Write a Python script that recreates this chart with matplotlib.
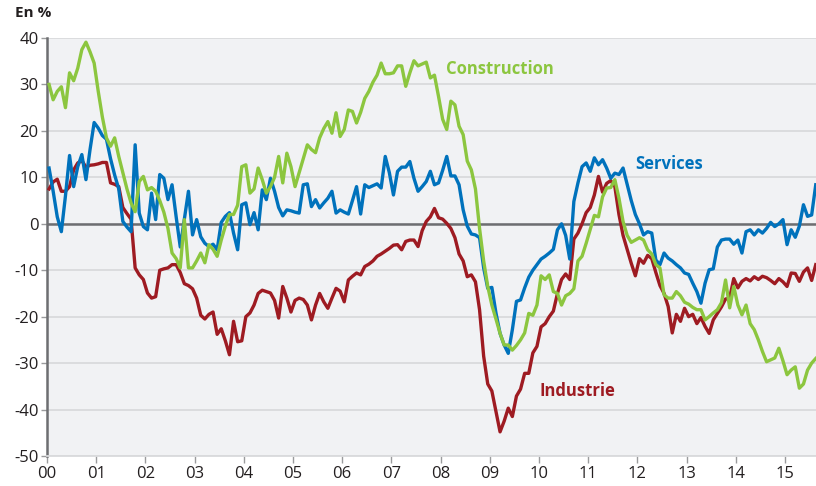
import numpy as np
import matplotlib
matplotlib.use("Agg")
import matplotlib.pyplot as plt

# monthly values, Jan 2000 - Aug 2015 (en %)
construction = [
    30, 26.7, 28.5, 29.5, 25, 32.5, 30.8, 33.5, 37.5, 39.1, 37, 34.6,
    28.5, 23, 18.5, 16.7, 18.5, 14.5, 11, 7.5, 4.5, 2.6, 9.1, 10.2,
    7.3, 7.8, 7, 5, 2.5, -1, -6.3, -7.5, -9.5, 0.9, -9.5, -9.5,
    -8, -6.3, -8.4, -4.5, -5.5, -7, -3.5, -0.5, 2, 2, 4, 12.3,
    12.7, 6.6, 7.5, 12, 9.5, 6.6, 8, 10, 14.5, 8.8, 15.2, 12.3,
    8, 11, 14, 17, 16, 15.3, 18.5, 20.5, 22, 19.5, 23.9, 18.8,
    20.3, 24.5, 24.2, 21.7, 24, 27, 28.5, 30.5, 32, 34.6, 32.3, 32.3,
    32.5, 34, 34, 29.6, 32.5, 35.1, 34, 34.4, 34.8, 31.4, 32, 27.4,
    22.5, 20.3, 26.4, 25.6, 21, 19.2, 13.5, 11.6, 7.5, -1, -8, -13.5,
    -17.5, -20.5, -23.6, -26.1, -26.1, -27.2, -26.2, -25, -23.5, -19.3, -19.7, -17.5,
    -11.2, -12, -11, -14.6, -15, -17.5, -15.5, -15, -14, -8, -7, -4.2,
    -1.2, 1.8, 1.5, 5.8, 7.7, 7.8, 9.5, 5.5, 0.5, -2.5, -4, -3.5,
    -3, -3.5, -5.6, -6.5, -8.8, -9.5, -15.3, -16, -16, -14.6, -15.5, -16.9,
    -17.3, -18, -18.5, -18.5, -20.7, -20, -19.2, -18.5, -17, -12.1, -18.1, -13.5,
    -17.5, -19.6, -17.5, -21.5, -22.8, -25, -27.5, -29.7, -29.3, -28.9, -26.8, -29.5,
    -32.5, -31.5, -30.8, -35.4, -34.5, -31.5, -30, -29,
]

services = [
    12, 7, 1.5, -1.7, 6, 14.7, 8, 12.3, 14.9, 9.5, 16, 21.8,
    20.6, 19, 18.2, 14, 10.5, 7.5, 0.5, -0.7, -1.7, 17, 2.3, -0.6,
    -1.3, 6.6, 0.9, 10.6, 9.8, 5.2, 8.4, 1.5, -5, 1, 7, -2.4,
    0.9, -2.8, -4.2, -4.9, -4.4, -5.6, 0.3, 1.6, 2.4, -2, -5.6, 4.1,
    4.5, -0.2, 2.4, -1.3, 7.3, 5.2, 9.8, 7, 3.5, 1.7, 3, 2.8,
    2.5, 2.3, 8.4, 8.6, 3.7, 5.2, 3.4, 4.5, 5.5, 7, 2.3, 3,
    2.5, 2.1, 5, 8, 2.1, 8.4, 7.8, 8.2, 8.6, 7.7, 14.5, 11,
    6.2, 11.3, 12.2, 12.2, 13.4, 9.8, 7, 8, 9.1, 11.3, 8.4, 8.8,
    11.5, 14.5, 10.3, 10.3, 8.4, 3, -0.5, -2.2, -2.4, -3, -9.5, -13.9,
    -13.7, -19.2, -23.6, -26.1, -27.9, -22.8, -16.7, -16.4, -13.8, -11.5, -10, -8.8,
    -7.6, -7, -6.3, -5.5, -1.3, 0, -2.5, -7.6, 4.8, 8.8, 12.3, 13.1,
    11.3, 14.2, 12.7, 13.8, 12, 9.8, 10.9, 10.6, 12, 8.5, 5, 2,
    0, -2.4, -1.7, -2, -7.8, -8.8, -6.3, -7.4, -8, -8.8, -9.5, -10.6,
    -10.9, -12.8, -14.6, -17.1, -12.8, -9.9, -9.7, -5, -3.5, -3.3, -3.3, -4.4,
    -3.5, -6.3, -1.7, -1.3, -2.4, -1.3, -2, -1, 0.3, -0.6, 0, 0.9,
    -4.5, -1.3, -2.9, -0.5, 4.1, 1.6, 1.9, 8.4,
]

industrie = [
    7.5, 9, 9.6, 7, 7, 8, 11.6, 13.1, 13.6, 12.2, 12.6, 12.7,
    12.9, 13.2, 13.2, 8.8, 8.5, 8, 3.5, 2.2, 1, -9.5, -11, -12,
    -14.9, -16, -15.7, -10, -9.7, -9.5, -8.8, -8.8, -10.5, -12.9, -13.3, -14,
    -16, -19.7, -20.5, -19.5, -19, -23.8, -22.6, -25.2, -28.2, -21, -25.4, -25.2,
    -20, -19.2, -17.5, -15, -14.3, -14.6, -14.9, -16.5, -20.3, -13.5, -16, -19,
    -16.5, -16, -16.3, -17.5, -20.7, -17.5, -15, -16.8, -18.2, -16, -13.9, -14.5,
    -16.8, -12.1, -11.3, -10.6, -11, -9.2, -8.7, -8, -7, -6.5, -5.9, -5.3,
    -4.6, -4.5, -5.6, -3.8, -3.5, -3.5, -4.9, -1.5, 0.5, 1.5, 3.3, 1.3,
    1, 0.1, -1, -3, -6.5, -8, -11.4, -11, -12.5, -18.5, -28.5, -34.5,
    -36, -40.4, -44.8, -42.5, -39.7, -41.5, -37.1, -35.6, -32.2, -32.2, -27.8, -26.4,
    -22.2, -21.5, -20, -18.8, -15, -12, -10.8, -12, -3.3, -2, 0, 2.4,
    3.5, 6.2, 10.2, 6.8, 8.7, 9.3, 8, 2, -2.5, -5.5, -8.5, -11.2,
    -7.5, -8.5, -6.8, -7.5, -10.5, -13.3, -15, -17.8, -23.5, -19.5, -21, -18.2,
    -20, -19.5, -21.5, -20.2, -22.1, -23.6, -20.7, -19.3, -17.9, -16.2, -16, -11.8,
    -13.8, -12.4, -11.8, -12.3, -11.4, -12, -11.3, -11.6, -12.2, -12.9, -11.8, -12.5,
    -13.5, -10.6, -10.7, -12.4, -10.4, -9.5, -12.2, -8.8,
]

year_labels = ["00", "01", "02", "03", "04", "05", "06", "07",
               "08", "09", "10", "11", "12", "13", "14", "15"]

green = "#8cc63f"
blue = "#0072bc"
red = "#9e1b22"
dark = "#6d6e71"
grid_c = "#d9dadc"

plt.rcParams["font.family"] = ["Open Sans", "DejaVu Sans"]
plt.rcParams["axes.unicode_minus"] = False

fig = plt.figure(figsize=(8.16, 4.86), dpi=100)
ax = fig.add_axes([47 / 816, 30 / 486, 1 - 47 / 816, 418 / 486])
ax.set_facecolor("#f1f2f4")

months = np.arange(len(services))
x = (months + 0.5) / 12

ax.set_ylim(-50, 40)
ax.set_xlim(0, 15.63)
ax.set_yticks(np.arange(-50, 41, 10))
ax.set_xticks(np.arange(len(year_labels)))
ax.set_xticklabels(year_labels)

ax.grid(axis="y", color=grid_c, linewidth=1.3)
ax.set_axisbelow(True)
ax.axhline(0, color=dark, linewidth=1.8, zorder=2)

ax.plot(x, industrie, color=red, linewidth=2.4, zorder=3)
ax.plot(x, services, color=blue, linewidth=2.4, zorder=4)
ax.plot(x, construction, color=green, linewidth=2.4, zorder=5)

for s in ["top", "right"]:
    ax.spines[s].set_visible(False)
ax.spines["left"].set_color(dark)
ax.spines["left"].set_linewidth(1.8)
ax.spines["bottom"].set_color(grid_c)
ax.spines["bottom"].set_linewidth(1.3)

ax.tick_params(axis="y", length=4, width=1, color="#9a9b9d", labelsize=12,
               labelcolor="#231f20", pad=2)
ax.tick_params(axis="x", length=5, width=1, color="#9a9b9d", labelsize=12,
               labelcolor="#231f20", pad=2)

ax.text(8.1, 33.4, "Construction", color=green, fontsize=12, fontweight="bold",
        va="center", ha="left")
ax.text(11.95, 12.8, "Services", color=blue, fontsize=12, fontweight="bold",
        va="center", ha="left")
ax.text(10.0, -36, "Industrie", color=red, fontsize=12, fontweight="bold",
        va="center", ha="left")

fig.text(15 / 816, 1 - 13 / 486, "En %", fontsize=11, fontweight="bold",
         color="#231f20", va="center", ha="left")

fig.savefig("out.png", dpi=100)
